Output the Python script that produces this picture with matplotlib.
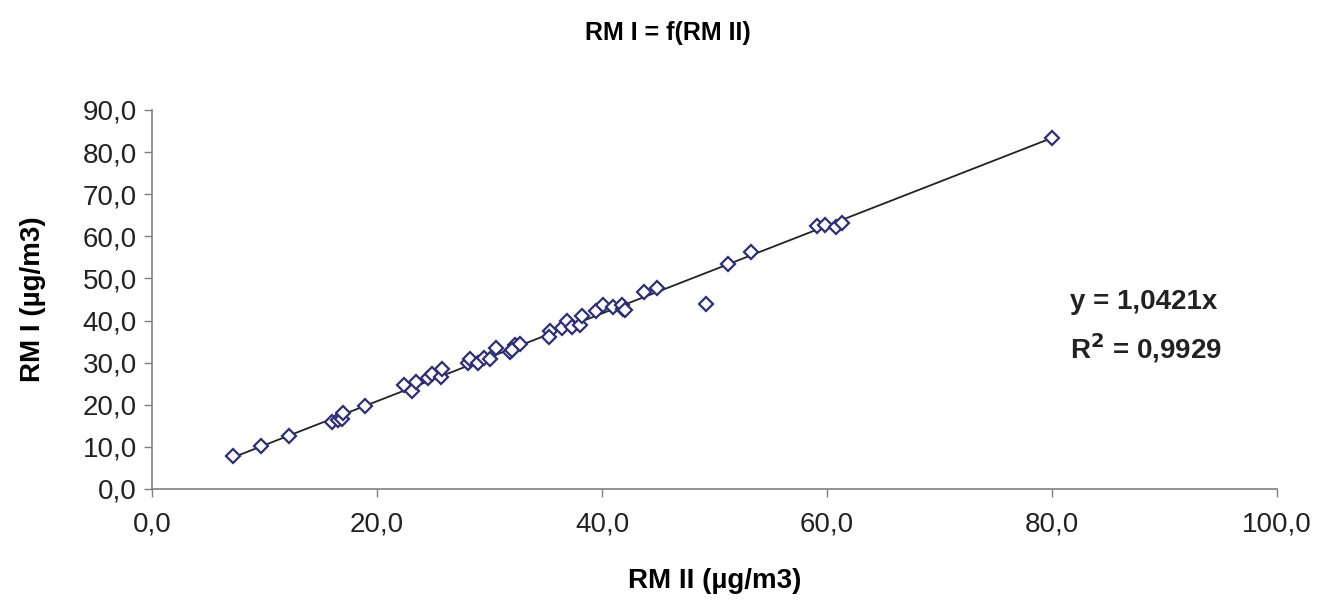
import numpy as np
import matplotlib
matplotlib.use("Agg")
from matplotlib import pyplot as plt

plt.rcParams['font.family'] = ['Liberation Sans', 'DejaVu Sans']

# RM II (x) and RM I (y), ug/m3
rm2 = [7.2, 9.7, 12.2, 16.0, 16.5, 16.9, 17.0, 18.9,
       22.4, 23.1, 23.5, 24.5, 24.9, 25.7, 25.8, 28.1, 28.3, 29.0, 29.5, 30.0,
       30.6, 31.8, 32.3, 32.0, 32.7, 35.4, 35.3, 36.4, 36.9, 37.3, 38.0, 38.2,
       39.5, 40.1, 41.0, 41.9, 41.8, 42.0, 43.7, 44.9, 49.2, 51.2,
       53.2, 59.1, 59.8, 60.8, 61.3, 80.0]
rm1 = [7.8, 10.2, 12.6, 16.0, 16.4, 16.6, 18.1, 19.8,
       24.6, 23.3, 25.3, 26.3, 27.4, 26.7, 28.6, 29.8, 30.8, 29.8, 31.0, 30.8,
       33.4, 32.6, 34.2, 33.0, 34.4, 37.6, 36.2, 38.3, 39.9, 38.5, 38.9, 41.0,
       42.3, 43.7, 43.3, 42.7, 43.8, 42.6, 46.7, 47.8, 44.0, 53.4,
       56.2, 62.4, 62.8, 62.2, 63.2, 83.3]
slope = 1.0421
r2 = 0.9929
xticks = [0, 20, 40, 60, 80, 100]
yticks = [0, 10, 20, 30, 40, 50, 60, 70, 80, 90]

fig = plt.figure(figsize=(13.35, 6.1), dpi=100)
ax = fig.add_axes([0.1139, 0.1984, 0.8427, 0.6213])

xs = np.array([min(rm2), max(rm2)])
ax.plot(xs, slope * xs, color='#222222', lw=1.3, zorder=2)
ax.plot(rm2, rm1, linestyle='none', marker='D', markersize=7.5,
        markerfacecolor='white', markeredgecolor='#2e2e78', markeredgewidth=1.6, zorder=3)

ax.set_xlim(0, 100)
ax.set_ylim(0, 90)
ax.set_xticks(xticks)
ax.set_yticks(yticks)
ax.set_xticklabels([('%.1f' % v).replace('.', ',') for v in xticks])
ax.set_yticklabels([('%.1f' % v).replace('.', ',') for v in yticks])
ax.tick_params(direction='out', length=6, width=1, color='#808080',
               labelsize=20, labelcolor='#222222')
ax.tick_params(axis='x', pad=10)
ax.tick_params(axis='y', pad=5)
for s in ['top', 'right']:
    ax.spines[s].set_visible(False)
for s in ['left', 'bottom']:
    ax.spines[s].set_color('#808080')
    ax.spines[s].set_linewidth(1.2)

ax.set_xlabel('RM II (µg/m3)', fontsize=20, fontweight='bold', labelpad=22)
ax.set_ylabel('RM I (µg/m3)', fontsize=20, fontweight='bold', labelpad=26)
fig.suptitle('RM I = f(RM II)', fontsize=18, fontweight='bold', y=0.965)

ax.text(0.816, 0.475, 'y = %s' % ('%.4f' % slope).replace('.', ',') + 'x',
        transform=ax.transAxes, fontsize=20, fontweight='bold', color='#222222')
ax.text(0.816, 0.345, r'R$^{\mathbf{2}}$ = ' + ('%.4f' % r2).replace('.', ','),
        transform=ax.transAxes, fontsize=20, fontweight='bold', color='#222222')

fig.savefig('out.png', dpi=100)
